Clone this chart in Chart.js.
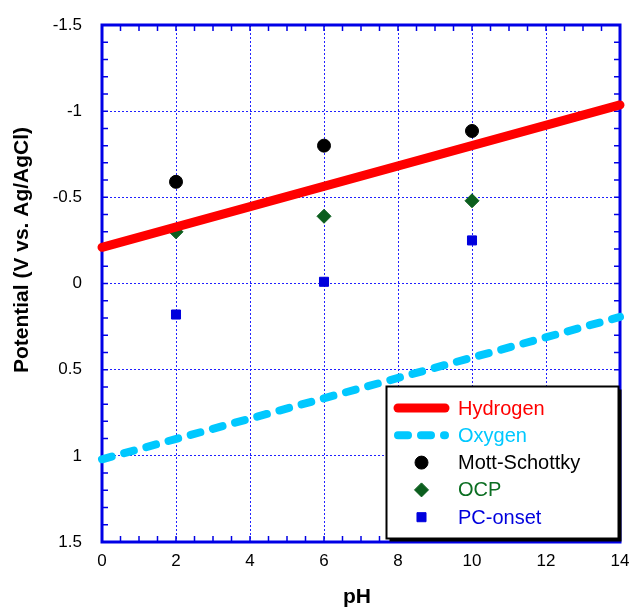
<!DOCTYPE html>
<html>
<head>
<meta charset="utf-8">
<script src="https://cdn.jsdelivr.net/npm/chart.js@4/dist/chart.umd.min.js"></script>
<style>
html,body{margin:0;padding:0;background:#fff;}
#wrap{position:relative;width:631px;height:609px;}
</style>
</head>
<body>
<div id="wrap"><canvas id="c" width="631" height="609"></canvas></div>
<script>
// ---- data ----
const linePH = [0, 14];
const hydrogen = [-0.21, -1.036];
const oxygen = [1.02, 0.194];
const samplePH = [2, 6, 10];
const mottSchottky = [-0.59, -0.80, -0.885];
const ocp = [-0.30, -0.39, -0.48];
const pcOnset = [0.18, -0.01, -0.25];
const xTitle = 'pH';
const yTitle = 'Potential (V vs. Ag/AgCl)';

const pts = (xs, ys) => xs.map((x, i) => ({x: x, y: ys[i]}));
const fmt = v => String(Math.round(v * 10) / 10);

const AXIS_BLUE = '#0000e6';
const GRID_BLUE = '#2020ff';

const framePlugin = {
  id: 'frame',
  beforeDatasetsDraw(chart) {
    const {ctx, chartArea: a, scales} = chart;
    ctx.save();
    ctx.strokeStyle = AXIS_BLUE;
    ctx.lineWidth = 1.5;
    const tl = 6;
    for (let v = 0; v <= 14.001; v += 0.5) {
      const px = scales.x.getPixelForValue(v);
      ctx.beginPath();
      ctx.moveTo(px, a.bottom); ctx.lineTo(px, a.bottom - tl);
      ctx.moveTo(px, a.top); ctx.lineTo(px, a.top + tl);
      ctx.stroke();
    }
    for (let v = -1.5; v <= 1.5001; v += 0.1) {
      const py = scales.y.getPixelForValue(v);
      ctx.beginPath();
      ctx.moveTo(a.left, py); ctx.lineTo(a.left + tl, py);
      ctx.moveTo(a.right, py); ctx.lineTo(a.right - tl, py);
      ctx.stroke();
    }
    ctx.lineWidth = 3;
    ctx.strokeRect(a.left, a.top, a.right - a.left, a.bottom - a.top);
    ctx.fillStyle = '#000';
    ctx.font = 'bold 21px "Liberation Sans", Arial, sans-serif';
    ctx.textAlign = 'center';
    ctx.textBaseline = 'middle';
    ctx.fillText(xTitle, 357, 597);
    ctx.translate(22, 250);
    ctx.rotate(-Math.PI / 2);
    ctx.fillText(yTitle, 0, 0);
    ctx.restore();
  }
};

const legendPlugin = {
  id: 'boxLegend',
  afterDraw(chart) {
    const {ctx} = chart;
    const bx = 386.5, by = 386.5, bw = 232, bh = 152;
    ctx.save();
    ctx.fillStyle = '#000';
    ctx.fillRect(bx + 3, by + 3, bw, bh);
    ctx.fillStyle = '#fff';
    ctx.fillRect(bx, by, bw, bh);
    ctx.strokeStyle = '#000';
    ctx.lineWidth = 2;
    ctx.strokeRect(bx, by, bw, bh);
    const rowY0 = 408, rowH = 27.3;
    ctx.font = '20px "Liberation Sans", Arial, sans-serif';
    ctx.textBaseline = 'middle';
    ctx.textAlign = 'left';
    chart.data.datasets.forEach((ds, i) => {
      const y = rowY0 + i * rowH;
      if (ds.showLine) {
        ctx.save();
        ctx.strokeStyle = ds.borderColor;
        ctx.lineWidth = ds.borderWidth;
        ctx.lineCap = 'round';
        ctx.setLineDash(ds.borderDash || []);
        ctx.beginPath();
        ctx.moveTo(398, y); ctx.lineTo(445, y);
        ctx.stroke();
        ctx.restore();
      } else {
        ctx.save();
        ctx.fillStyle = ds.backgroundColor;
        ctx.strokeStyle = ds.borderColor;
        ctx.lineWidth = 1;
        Chart.helpers.drawPoint(ctx, {pointStyle: ds.pointStyle, radius: ds.pointRadius, borderWidth: 1, rotation: 0}, 421.5, y);
        ctx.restore();
      }
      ctx.fillStyle = ds.legendColor;
      ctx.fillText(ds.label, 458, y + 1);
    });
    ctx.restore();
  }
};

new Chart(document.getElementById('c'), {
  type: 'scatter',
  data: {
    datasets: [
      {label: 'Hydrogen', data: pts(linePH, hydrogen), showLine: true, borderColor: '#ff0000', backgroundColor: '#ff0000', legendColor: '#ff0000', borderWidth: 9, borderCapStyle: 'round', pointRadius: 0, clip: false},
      {label: 'Oxygen', data: pts(linePH, oxygen), showLine: true, borderColor: '#00c8ff', backgroundColor: '#00c8ff', legendColor: '#00c8ff', borderWidth: 8, borderDash: [10, 13], borderCapStyle: 'round', pointRadius: 0, clip: false},
      {label: 'Mott-Schottky', data: pts(samplePH, mottSchottky), showLine: false, pointStyle: 'circle', pointRadius: 6.5, backgroundColor: '#000', borderColor: '#000', legendColor: '#000'},
      {label: 'OCP', data: pts(samplePH, ocp), showLine: false, pointStyle: 'rectRot', pointRadius: 7, backgroundColor: '#0b5e1e', borderColor: '#0b5e1e', legendColor: '#0b6e22'},
      {label: 'PC-onset', data: pts(samplePH, pcOnset), showLine: false, pointStyle: 'rect', pointRadius: 6.4, backgroundColor: '#0000dd', borderColor: '#0000dd', legendColor: '#0000dd'}
    ]
  },
  options: {
    responsive: false,
    animation: false,
    events: [],
    layout: {padding: {left: 0, top: 25, right: 11, bottom: 0}, autoPadding: false},
    plugins: {legend: {display: false}, tooltip: {enabled: false}},
    scales: {
      x: {
        type: 'linear', min: 0, max: 14,
        afterFit: s => { s.height = 67; s.paddingLeft = 0; s.paddingRight = 0; },
        ticks: {stepSize: 2, color: '#000', padding: 9, callback: v => fmt(v), font: {family: '"Liberation Sans", Arial, sans-serif', size: 17}},
        grid: {color: GRID_BLUE, lineWidth: 1, drawTicks: false},
        border: {display: false, dash: [2, 2]}
      },
      y: {
        type: 'linear', min: -1.5, max: 1.5, reverse: true,
        afterFit: s => { s.width = 102; s.paddingTop = 0; s.paddingBottom = 0; },
        ticks: {stepSize: 0.5, color: '#000', padding: 20, callback: v => fmt(v), font: {family: '"Liberation Sans", Arial, sans-serif', size: 17}},
        grid: {color: GRID_BLUE, lineWidth: 1, drawTicks: false},
        border: {display: false, dash: [2, 2]}
      }
    }
  },
  plugins: [framePlugin, legendPlugin]
});
</script>
</body>
</html>
